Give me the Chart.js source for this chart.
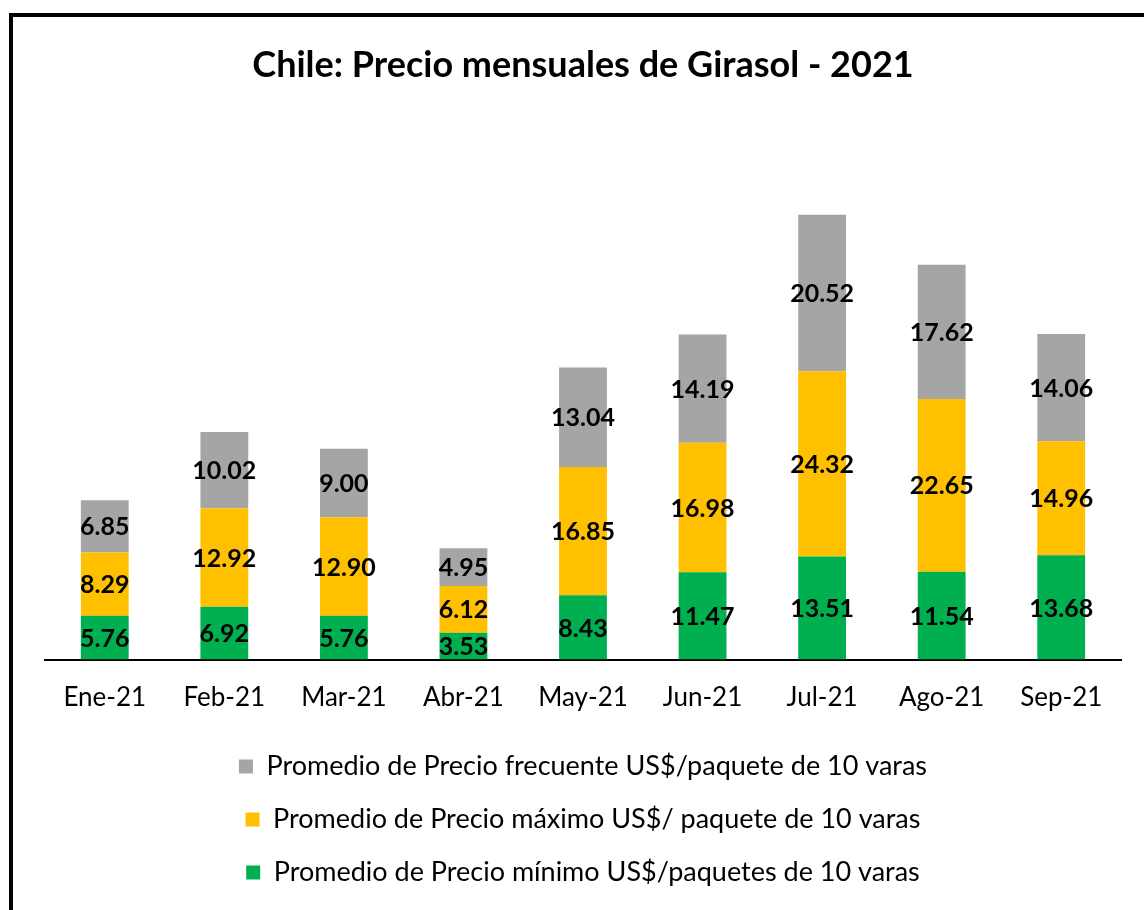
<!DOCTYPE html>
<html>
<head>
<meta charset="utf-8">
<script src="https://cdn.jsdelivr.net/npm/chart.js@4/dist/chart.umd.min.js"></script>
<style>
  html, body { margin: 0; padding: 0; background: #fff; }
  #frame {
    position: absolute; left: 9px; top: 13px; width: 1200px; height: 960px;
    border-left: 4px solid #000; border-top: 4px solid #000;
  }
  #wrap { position: absolute; left: 0; top: 0; width: 1144px; height: 910px; }
</style>
</head>
<body>
<div id="frame"></div>
<div id="wrap"><canvas id="girasol" width="1144" height="910"></canvas></div>
<script>
const meses = ['Ene-21', 'Feb-21', 'Mar-21', 'Abr-21', 'May-21', 'Jun-21', 'Jul-21', 'Ago-21', 'Sep-21']
const precioMinimo = [5.76, 6.92, 5.76, 3.53, 8.43, 11.47, 13.51, 11.54, 13.68]
const precioMaximo = [8.29, 12.92, 12.90, 6.12, 16.85, 16.98, 24.32, 22.65, 14.96]
const precioFrecuente = [6.85, 10.02, 9.00, 4.95, 13.04, 14.19, 20.52, 17.62, 14.06]

const fuente = 'Lato, "Open Sans", sans-serif'

// etiquetas de valor en el centro de cada segmento
const etiquetas = {
    id: 'etiquetas',
    afterDatasetsDraw(chart) {
        const ctx = chart.ctx
        ctx.save()
        ctx.font = 'bold 25px ' + fuente
        ctx.fillStyle = '#000'
        ctx.textAlign = 'center'
        ctx.textBaseline = 'middle'
        chart.data.datasets.forEach((ds, i) => {
            chart.getDatasetMeta(i).data.forEach((bar, j) => {
                const mid = (bar.y + bar.base) / 2
                ctx.fillText(ds.data[j].toFixed(2), bar.x, mid + 1)
            })
        })
        ctx.restore()
    }
}

const data = {
    labels: meses,
    datasets: [
        {
            label: 'Promedio de Precio mínimo US$/paquetes de 10 varas',
            data: precioMinimo,
            backgroundColor: '#00B050'
        },
        {
            label: 'Promedio de Precio máximo US$/ paquete de 10 varas',
            data: precioMaximo,
            backgroundColor: '#FFC000'
        },
        {
            label: 'Promedio de Precio frecuente US$/paquete de 10 varas',
            data: precioFrecuente,
            backgroundColor: '#A5A5A5'
        }
    ]
}

const config = {
    type: 'bar',
    data: data,
    plugins: [etiquetas],
    options: {
        responsive: false,
        animation: false,
        layout: {
            padding: { left: 45, right: 23, top: 0, bottom: 14 }
        },
        datasets: {
            bar: { categoryPercentage: 1, barPercentage: 0.4 }
        },
        plugins: {
            title: {
                display: true,
                text: 'Chile: Precio mensuales de Girasol - 2021',
                color: '#000',
                font: { family: fuente, size: 36, weight: 'bold' },
                padding: { top: 44, bottom: 115 }
            },
            legend: {
                position: 'bottom',
                reverse: true,
                labels: {
                    color: '#000',
                    boxWidth: 14,
                    boxHeight: 14,
                    padding: 26,
                    font: { family: fuente, size: 27 }
                }
            },
            tooltip: { enabled: false }
        },
        scales: {
            x: {
                stacked: true,
                grid: { display: false },
                border: { display: true, color: '#000', width: 2 },
                ticks: { color: '#000', font: { family: fuente, size: 26, lineHeight: 0.9 }, padding: 18 }
            },
            y: {
                stacked: true,
                display: false,
                min: 0,
                max: 60
            }
        }
    }
}

const chart = new Chart(document.getElementById('girasol'), config)
</script>
</body>
</html>
